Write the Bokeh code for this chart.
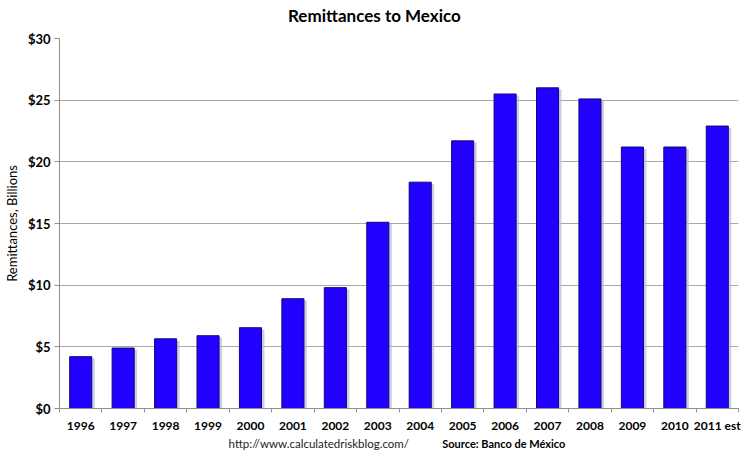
from bokeh.plotting import figure
from bokeh.layouts import column
from bokeh.models import ColumnDataSource, FixedTicker, NumeralTickFormatter, Range1d
from bokeh.core.properties import value
from bokeh.embed import file_html
from bokeh.resources import INLINE

years = ["1996", "1997", "1998", "1999", "2000", "2001", "2002", "2003",
         "2004", "2005", "2006", "2007", "2008", "2009", "2010", "2011 est"]
remittances = [4.2, 4.9, 5.65, 5.9, 6.55, 8.9, 9.8, 15.1,
               18.35, 21.7, 25.5, 26.0, 25.1, 21.2, 21.2, 22.9]
y_ticks = [0, 5, 10, 15, 20, 25, 30]
title_text = "Remittances to Mexico"
url_text = "http://www.calculatedriskblog.com/"
source_text = "Source: Banco de México"

pos = list(range(len(years)))
src = ColumnDataSource(dict(x=pos, top=remittances,
                            xs=[p_ + 0.07 for p_ in pos],
                            ts=[v - 0.15 for v in remittances]))

FONT = "Lato"
W = 742
LB, RB = 56, 4
xr = Range1d(-0.5, len(years) - 0.5)


def strip(h):
    s = figure(width=W, height=h, output_backend="svg", toolbar_location=None,
               x_range=xr, y_range=Range1d(0, 1),
               min_border_left=LB, min_border_right=RB, min_border_top=0, min_border_bottom=0)
    s.axis.visible = False
    s.grid.visible = False
    s.outline_line_color = None
    return s


# header strip with the title
p0 = strip(30)
p0.text(x=[6.92], y=[0.5], text=[title_text], text_font=value(FONT), text_font_size="17px",
        text_font_style="bold", text_align="center", text_baseline="middle", text_color="#000000")

p = figure(width=W, height=405, output_backend="svg", toolbar_location=None,
           x_range=xr, y_range=Range1d(0, 30),
           min_border_left=LB, min_border_right=RB, min_border_top=8, min_border_bottom=24)

p.vbar(x="xs", top="ts", width=0.52, source=src, fill_color="#b8b8d8",
       line_color=None, fill_alpha=0.7)
p.vbar(x="x", top="top", width=0.52, source=src, fill_color="#2200ff",
       line_color="#10087a", line_width=1)

p.outline_line_color = None
p.xgrid.grid_line_color = None
p.ygrid.grid_line_color = "#a8a8a8"
p.ygrid.ticker = FixedTicker(ticks=y_ticks)

p.yaxis.ticker = FixedTicker(ticks=y_ticks)
p.yaxis.formatter = NumeralTickFormatter(format="$0")
p.yaxis.axis_label = "Remittances, Billions"
p.yaxis.axis_label_text_font = FONT
p.yaxis.axis_label_text_font_style = "normal"
p.yaxis.axis_label_text_font_size = "13px"
p.yaxis.axis_label_text_color = "#000000"
p.yaxis.axis_label_standoff = 5
p.yaxis.major_label_text_font = FONT
p.yaxis.major_label_text_font_style = "bold"
p.yaxis.major_label_text_font_size = "13px"
p.yaxis.major_label_text_color = "#000000"
p.yaxis.major_label_standoff = 4
p.yaxis.axis_line_color = "#909090"
p.yaxis.major_tick_line_color = "#909090"
p.yaxis.major_tick_out = 5
p.yaxis.major_tick_in = 0
p.yaxis.minor_tick_line_color = None

p.xaxis.ticker = FixedTicker(ticks=pos, minor_ticks=[i - 0.5 for i in range(len(years) + 1)])
p.xaxis.major_label_overrides = {i: y for i, y in enumerate(years)}
p.xaxis.major_label_text_font = FONT
p.xaxis.major_label_text_font_style = "bold"
p.xaxis.major_label_text_font_size = "12px"
p.xaxis.major_label_text_color = "#000000"
p.xaxis.major_label_standoff = 3
p.xaxis.axis_line_color = "#909090"
p.xaxis.major_tick_line_color = None
p.xaxis.minor_tick_line_color = "#909090"
p.xaxis.minor_tick_out = 4
p.xaxis.minor_tick_in = 0

# footer strip
p2 = strip(16)
p2.text(x=[5.61], y=[0.5], text=[url_text], text_font=value(FONT), text_font_size="11.5px",
        text_align="center", text_baseline="middle", text_color="#222222")
p2.text(x=[8.52], y=[0.5], text=[source_text], text_font=value(FONT), text_font_size="11px",
        text_font_style="bold", text_align="left", text_baseline="middle", text_color="#000000")

layout = column(p0, p, p2, spacing=0)
open("out.html", "w").write(file_html(layout, INLINE))
